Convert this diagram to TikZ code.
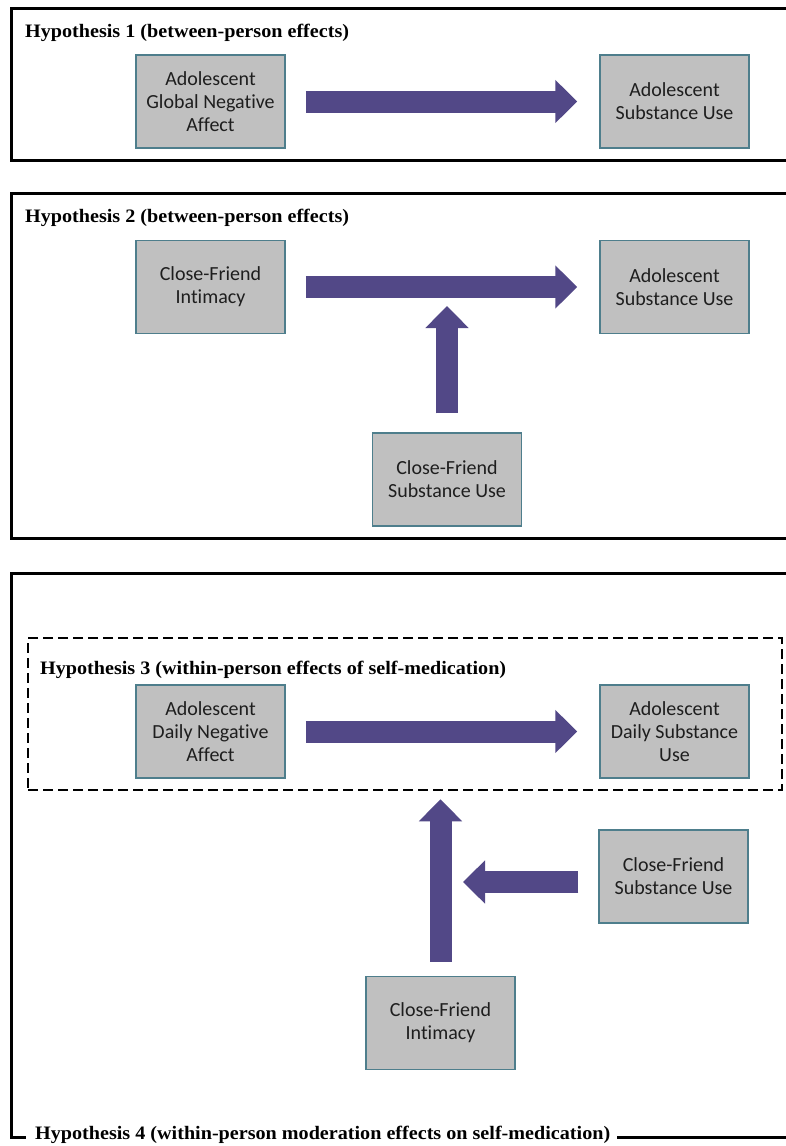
\documentclass[tikz,border=0pt]{standalone}
\usepackage{fontspec}
\setmainfont{Carlito}[Ligatures=NoCommon]
\newfontfamily\hypfont[FakeStretch=1.06]{Liberation Serif}
\usetikzlibrary{arrows.meta}
\definecolor{boxgray}{HTML}{C0C0C0}
\definecolor{boxedge}{HTML}{4E7E8C}
\definecolor{arrowpurple}{HTML}{524887}
\definecolor{textdark}{HTML}{1E1E1E}
\begin{document}
\begin{tikzpicture}[x=1pt,y=-1pt,
 box/.style={draw=boxedge, line width=1.5pt, fill=boxgray, minimum width=149pt, minimum height=93pt, inner sep=0pt, align=center, font=\fontsize{20}{23}\selectfont, text=textdark},
 bigarrow/.style={draw=arrowpurple, line width=22pt, -{Triangle[length=22pt,width=42pt]}, color=arrowpurple},
 hyp/.style={anchor=base west, inner sep=0pt, font=\hypfont\bfseries\fontsize{19}{21}\selectfont},
 frame/.style={line width=3pt},
 dashframe/.style={draw, line width=2.5pt, dash pattern=on 10pt off 5pt, minimum width=754pt, minimum height=152pt, inner sep=0pt},
]
\fill[white] (0,0) rectangle (786,1146);
\useasboundingbox (0,0) rectangle (786,1146);

% Panel 1
\draw[frame] (786,8) -- (11,8) -- (11,160) -- (786,160);
\node[hyp] (T1) at (25,37) {Hypothesis 1 (between-person effects)};
\node[box] (A1) at (210.5,101.5) {Adolescent\\Global Negative\\Affect};
\node[box] (B1) at (674.5,101.5) {Adolescent\\Substance Use};
\draw[bigarrow, shorten <=20pt, shorten >=22pt] (A1.east) -- (B1.west);

% Panel 2
\draw[frame] (786,193) -- (11,193) -- (11,538) -- (786,538);
\node[hyp] (T2) at (25,222) {Hypothesis 2 (between-person effects)};
\node[box] (A2) at (210.5,287) {Close-Friend\\Intimacy};
\node[box] (B2) at (674.5,287) {Adolescent\\Substance Use};
\node[box] (C2) at (447,479.5) {Close-Friend\\Substance Use};
\draw[bigarrow, shorten <=20pt, shorten >=22pt] (A2.east) -- (B2.west);
\coordinate (M2) at (C2.north |- A2.east);
\draw[bigarrow, shorten <=19pt, shorten >=19pt] (C2.north) -- (M2);

% Panel 3
\draw[frame] (786,573) -- (11,573) -- (11,1137) -- (26,1137);
\draw[frame] (617,1137) -- (786,1137);
\node[dashframe] (H3) at (405,714) {};
\node[hyp] (T3) at (40,674) {Hypothesis 3 (within-person effects of self-medication)};
\node[box] (A3) at (210.5,731.5) {Adolescent\\Daily Negative\\Affect};
\node[box] (B3) at (674.5,731.5) {Adolescent\\Daily Substance\\Use};
\node[box] (C3) at (673.5,876.5) {Close-Friend\\Substance Use};
\node[box] (D3) at (440.5,1023) {Close-Friend\\Intimacy};
\draw[bigarrow, shorten <=20pt, shorten >=22pt] (A3.east) -- (B3.west);
\coordinate (M3) at (D3.north |- H3.south);
\draw[bigarrow, shorten <=14pt, shorten >=8pt] (D3.north) -- (M3);
\coordinate (K3) at ([yshift=-5.5pt]C3.west);
\coordinate (L3) at (D3.north |- K3);
\draw[bigarrow, shorten <=20pt, shorten >=22.5pt] (K3) -- (L3);
\node[hyp] (T4) at (35,1139) {Hypothesis 4 (within-person moderation effects on self-medication)};
\end{tikzpicture}
\end{document}
